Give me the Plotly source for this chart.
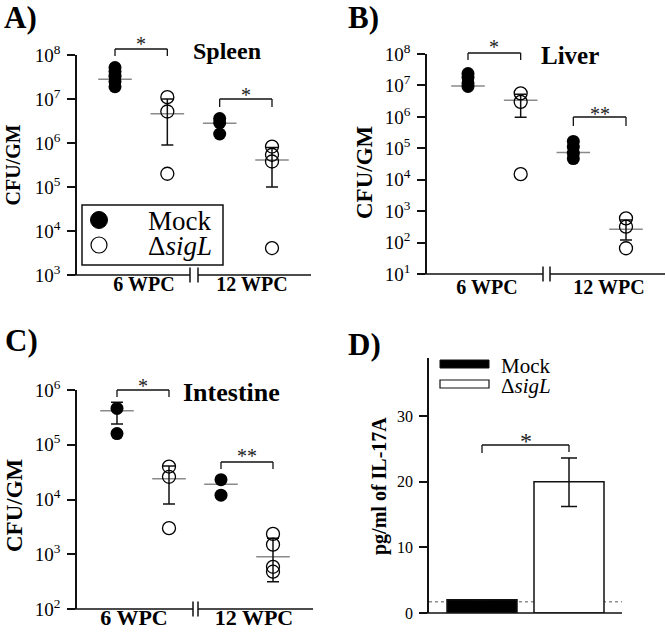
import plotly.graph_objects as go

W, H = 666, 633
FONT = "Liberation Serif"

# ---------------- data ----------------
groups = ["6 WPC", "12 WPC"]
strains = ["Mock", "ΔsigL"]

spleen_mock_6 = [5.2e7, 4.2e7, 3.3e7, 2.5e7, 1.9e7]
spleen_sigl_6 = [1.1e7, 5.2e6, 2.0e5]
spleen_mock_12 = [3.6e6, 2.9e6, 1.6e6]
spleen_sigl_12 = [8.3e5, 5.4e5, 3.8e5, 4.1e3]
spleen_mean = [2.8e7, 4.6e6, 2.8e6, 4.1e5]
spleen_err_hi = [None, 1.0e7, None, 7.9e5]
spleen_err_lo = [None, 9.0e5, None, 1.0e5]

liver_mock_6 = [2.4e7, 1.8e7, 1.2e7, 9.3e6]
liver_sigl_6 = [5.6e6, 3.0e6, 1.5e4]
liver_mock_12 = [1.65e5, 1.1e5, 7.0e4, 4.7e4]
liver_sigl_12 = [5.9e2, 3.2e2, 66]
liver_mean = [9.6e6, 3.4e6, 7.4e4, 2.65e2]
liver_err_hi = [None, 5.2e6, None, 5.2e2]
liver_err_lo = [None, 9.7e5, None, 1.2e2]

intestine_mock_6 = [4.6e5, 1.6e5]
intestine_sigl_6 = [4.0e4, 2.6e4, 3.0e3]
intestine_mock_12 = [2.3e4, 1.2e4]
intestine_sigl_12 = [2.35e3, 1.5e3, 5.9e2, 4.8e2]
intestine_mean = [4.2e5, 2.4e4, 1.9e4, 9.0e2]
intestine_err_hi = [6.0e5, 4.1e4, None, 1.95e3]
intestine_err_lo = [2.4e5, 8.3e3, None, 3.16e2]

il17_groups = ["Mock", "ΔsigL"]
il17_values = [2.0, 20.0]
il17_err_hi = [None, 23.6]
il17_err_lo = [None, 16.2]
il17_detection_limit = 1.7

# ---------------- layout helpers ----------------
def PX(x):
    return x / W


def PY(y):
    return 1 - y / H


fig = go.Figure()
shapes = []
annotations = []


def line(x0, y0, x1, y1, xref="paper", width=1.3, color="#111", dash=None):
    d = dict(type="line", xref=xref, yref="paper", x0=x0, y0=y0, x1=x1, y1=y1,
             line=dict(color=color, width=width), layer="above")
    if dash:
        d["line"]["dash"] = dash
    shapes.append(d)


def text(x, y, s, size, bold=False, xref="paper", xanchor="center", yanchor="middle", angle=0, color="black"):
    annotations.append(dict(x=x, y=y, xref=xref, yref="paper", text=s, showarrow=False,
                            xanchor=xanchor, yanchor=yanchor, textangle=angle,
                            font=dict(family=FONT, size=size, color=color,
                                      weight="bold" if bold else "normal")))


def sup(v):
    return "10<sup>%d</sup>" % v


# panel configs (pixel layout)
panels = [
    dict(name="Spleen", key="", x_px=(77, 311), y_px=(55, 275), p1=115, p4=272, yr=(3, 8),
         brk=(190, 198), lab_px=(144, 252), standoff=-5, lab_size=20,
         mock=[spleen_mock_6, spleen_mock_12], sigl=[spleen_sigl_6, spleen_sigl_12],
         mean=spleen_mean, hi=spleen_err_hi, lo=spleen_err_lo,
         letter=("A)", 2, 17), title=(227, 51, 24), ylab=(12.5, 165, 20),
         brackets=[(1, 2, 49, 56, "*", 41), (3, 4, 99, 107, "*", 92)]),
    dict(name="Liver", key="2", x_px=(427, 665), y_px=(54, 274), p1=468, p4=626, yr=(1, 8),
         brk=(543, 550), lab_px=(487, 609), standoff=-1, lab_size=20,
         mock=[liver_mock_6, liver_mock_12], sigl=[liver_sigl_6, liver_sigl_12],
         mean=liver_mean, hi=liver_err_hi, lo=liver_err_lo,
         letter=("B)", 346, 18), title=(570, 56, 25), ylab=(364, 172, 23),
         brackets=[(1, 2, 53, 60, "*", 44), (3, 4, 117, 126, "**", 111)]),
    dict(name="Intestine", key="3", x_px=(77, 313), y_px=(390, 609), p1=117, p4=273, yr=(2, 6),
         brk=(193, 198), lab_px=(134, 254), standoff=-7, lab_size=22,
         mock=[intestine_mock_6, intestine_mock_12], sigl=[intestine_sigl_6, intestine_sigl_12],
         mean=intestine_mean, hi=intestine_err_hi, lo=intestine_err_lo,
         letter=("C)", 3, 340), title=(231, 392, 26), ylab=(15, 505, 23),
         brackets=[(1, 2, 390, 397, "*", 383), (3, 4, 462, 469, "**", 453)]),
]

layout_axes = {}
for cfg in panels:
    k = cfg["key"]
    xa, ya = "x" + k, "y" + k
    xl, xr = cfg["x_px"]
    yt, yb = cfg["y_px"]
    unit = (cfg["p4"] - cfg["p1"]) / 3.0

    def xd(p, cfg=cfg, unit=unit):
        return 1 + (p - cfg["p1"]) / unit

    pos = [1, 2, 3, 4]  # Mock 6, ΔsigL 6, Mock 12, ΔsigL 12
    lo_dec, hi_dec = cfg["yr"]
    layout_axes["xaxis" + k] = dict(
        domain=[PX(xl), PX(xr)], range=[xd(xl), xd(xr)], anchor=ya, automargin=False,
        showline=False, showgrid=False, zeroline=False, ticks="",
        tickvals=[xd(cfg["lab_px"][0]), xd(cfg["lab_px"][1])],
        ticktext=["<b>%s</b>" % g for g in groups], ticklabelstandoff=cfg["standoff"],
        tickfont=dict(family=FONT, size=cfg["lab_size"], color="black"), fixedrange=True)
    layout_axes["yaxis" + k] = dict(
        domain=[PY(yb), PY(yt)], type="log", range=[lo_dec, hi_dec], anchor=xa, automargin=False,
        showline=True, linecolor="#111", linewidth=1.5, showgrid=False, zeroline=False,
        ticks="outside", ticklen=8, tickwidth=1.5, tickcolor="#111",
        tickvals=[10 ** d for d in range(lo_dec, hi_dec + 1)],
        ticktext=[sup(d) for d in range(lo_dec, hi_dec + 1)], ticklabelstandoff=3,
        tickfont=dict(family=FONT, size=19, color="black"), fixedrange=True)

    # mean lines (gray)
    fig.add_trace(go.Scatter(
        x=pos, y=cfg["mean"], xaxis=xa, yaxis=ya, mode="markers", showlegend=False,
        marker=dict(symbol="line-ew", size=24, line=dict(color="#8a8a8a", width=1.5)),
        hoverinfo="skip", cliponaxis=False))
    # error bars
    ex, ey, eplus, eminus = [], [], [], []
    for p, m, h, l in zip(pos, cfg["mean"], cfg["hi"], cfg["lo"]):
        if h is not None:
            ex.append(p)
            ey.append(m)
            eplus.append(h - m)
            eminus.append(m - l)
    fig.add_trace(go.Scatter(
        x=ex, y=ey, xaxis=xa, yaxis=ya, mode="markers", showlegend=False,
        marker=dict(size=2, color="rgba(0,0,0,0)"), hoverinfo="skip", cliponaxis=False,
        error_y=dict(type="data", array=eplus, arrayminus=eminus, symmetric=False,
                     color="#111", thickness=1.5, width=6)))
    # points
    mx = [1] * len(cfg["mock"][0]) + [3] * len(cfg["mock"][1])
    my = cfg["mock"][0] + cfg["mock"][1]
    sx = [2] * len(cfg["sigl"][0]) + [4] * len(cfg["sigl"][1])
    sy = cfg["sigl"][0] + cfg["sigl"][1]
    fig.add_trace(go.Scatter(
        x=mx, y=my, xaxis=xa, yaxis=ya, mode="markers", name=strains[0], showlegend=False,
        marker=dict(symbol="circle", size=13, color="black", line=dict(width=0)), cliponaxis=False))
    fig.add_trace(go.Scatter(
        x=sx, y=sy, xaxis=xa, yaxis=ya, mode="markers", name=strains[1], showlegend=False,
        marker=dict(symbol="circle-open", size=13, color="black", line=dict(width=1.3)),
        cliponaxis=False))

    # x axis line with break
    b0, b1 = cfg["brk"]
    line(PX(xl - 8), PY(yb), PX(b0), PY(yb), width=1.5)
    line(PX(b1), PY(yb), PX(xr), PY(yb), width=1.5)
    line(PX(b0), PY(yb - 7.5), PX(b0), PY(yb + 7.5), width=1.5)
    line(PX(b1), PY(yb - 7.5), PX(b1), PY(yb + 7.5), width=1.5)

    # significance brackets
    for g0, g1, ytop, ybot, star, ystar in cfg["brackets"]:
        line(g0, PY(ytop), g1, PY(ytop), xref=xa)
        line(g0, PY(ytop), g0, PY(ybot), xref=xa)
        line(g1, PY(ytop), g1, PY(ybot), xref=xa)
        text((g0 + g1) / 2.0, PY(ystar + 3), star, 20, xref=xa, color="#222")

    lt, lx, ly = cfg["letter"]
    text(PX(lx), PY(ly), lt, 31, bold=True, xanchor="left")
    tx, ty, ts = cfg["title"]
    text(PX(tx), PY(ty), cfg["name"], ts, bold=True)
    yx, yy, ys = cfg["ylab"]
    text(PX(yx), PY(yy), "CFU/GM", ys, bold=True, angle=-90)

# legend for panel A (drawn box)
shapes.append(dict(type="rect", xref="paper", yref="paper", x0=PX(82), x1=PX(223), y0=PY(265), y1=PY(205),
                   line=dict(color="#111", width=1.5), fillcolor="white", layer="above"))
shapes.append(dict(type="circle", xref="paper", yref="paper", x0=PX(90.5), x1=PX(107.5), y0=PY(228.5), y1=PY(211.5),
                   line=dict(color="black", width=1), fillcolor="black", layer="above"))
shapes.append(dict(type="circle", xref="paper", yref="paper", x0=PX(91), x1=PX(107), y0=PY(253), y1=PY(237),
                   line=dict(color="black", width=1.2), fillcolor="white", layer="above"))
text(PX(146), PY(221), strains[0], 27, xanchor="left")
text(PX(146), PY(246), "Δ<i>sigL</i>", 27, xanchor="left")

# ---------------- panel D: IL-17A bars ----------------
dxl, dxr, dyt, dyb = 429, 622, 358, 613
d_p0, d_p1 = 482, 569
d_unit = (d_p1 - d_p0)
d_scale = (dyb - 416) / 30.0
layout_axes["xaxis4"] = dict(
    domain=[PX(dxl), PX(dxr)], range=[(dxl - d_p0) / d_unit, 1 + (dxr - d_p1) / d_unit], anchor="y4",
    automargin=False, showline=False, showgrid=False, zeroline=False, showticklabels=False,
    ticks="", fixedrange=True)
layout_axes["yaxis4"] = dict(
    domain=[PY(dyb), PY(dyt)], range=[0, (dyb - dyt) / d_scale], anchor="x4", automargin=False,
    showline=True, linecolor="#111", linewidth=1.5, showgrid=False, zeroline=False,
    ticks="outside", ticklen=8, tickwidth=1.5, tickcolor="#111", tickvals=[0, 10, 20, 30],
    ticklabelstandoff=3, tickfont=dict(family=FONT, size=16, color="black"), fixedrange=True)

fig.add_trace(go.Bar(
    x=[0, 1], y=il17_values, xaxis="x4", yaxis="y4", width=70.0 / d_unit, showlegend=False,
    marker=dict(color=["black", "white"], line=dict(color="#111", width=1.5)),
    error_y=dict(type="data", symmetric=False,
                 array=[0 if h is None else h - v for h, v in zip(il17_err_hi, il17_values)],
                 arrayminus=[0 if l is None else v - l for l, v in zip(il17_err_lo, il17_values)],
                 visible=True, color="#111", thickness=1.5, width=8),
    hoverinfo="skip"))

# x axis line + detection limit
line(PX(422), PY(dyb), PX(dxr), PY(dyb), width=1.5)
shapes.append(dict(type="line", xref="x4 domain", yref="y4", x0=0, x1=1,
                   y0=il17_detection_limit, y1=il17_detection_limit,
                   line=dict(color="#555", width=1, dash="dot"), layer="below"))
# bracket
line(0, PY(445), 1, PY(445), xref="x4")
line(0, PY(445), 0, PY(453), xref="x4")
line(1, PY(445), 1, PY(452), xref="x4")
text(0.5, PY(437 + 3.6), "*", 24, xref="x4", color="#222")
# legend D
shapes.append(dict(type="rect", xref="paper", yref="paper", x0=PX(440), x1=PX(489), y0=PY(368), y1=PY(360),
                   line=dict(color="#111", width=1), fillcolor="black", layer="above"))
shapes.append(dict(type="rect", xref="paper", yref="paper", x0=PX(440), x1=PX(489), y0=PY(388), y1=PY(380),
                   line=dict(color="#111", width=1.2), fillcolor="white", layer="above"))
text(PX(499), PY(366), il17_groups[0], 21, xanchor="left")
text(PX(499), PY(386), "Δ<i>sigL</i>", 21, xanchor="left")
text(PX(346), PY(344), "D)", 31, bold=True, xanchor="left")
text(PX(379), PY(486), "pg/ml of IL-17A", 20, bold=True, angle=-90)

fig.update_layout(
    width=W, height=H, margin=dict(l=0, r=0, t=0, b=0, pad=0), autosize=False,
    template="none",
    paper_bgcolor="white", plot_bgcolor="rgba(0,0,0,0)",
    font=dict(family=FONT, color="black"),
    shapes=shapes, annotations=annotations, showlegend=False,
    **layout_axes)

fig.write_html("out.html", config={"displayModeBar": False},
               post_script="document.body.style.margin='0';")
